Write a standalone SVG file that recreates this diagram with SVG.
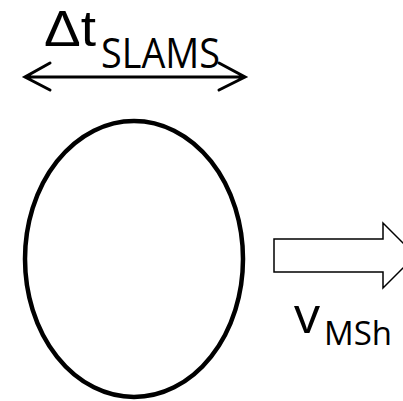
<svg xmlns="http://www.w3.org/2000/svg" width="403" height="401" viewBox="0 0 403 401">
  <style>
    .lbl { font-family: "Open Sans", "Liberation Sans", sans-serif; fill: #000; }
    .big { font-family: "Liberation Sans", "Open Sans", sans-serif; fill: #000; }
    .line { fill: none; stroke: #000; stroke-linecap: round; stroke-linejoin: miter; }
  </style>
  <rect width="403" height="401" fill="#fff"/>

  <!-- duration label and span arrow -->
  <g id="duration">
    <text class="big" x="44" y="45.5" font-size="50" textLength="52" lengthAdjust="spacingAndGlyphs">Δt</text>
    <text class="lbl" x="101" y="68" font-size="42" textLength="119" lengthAdjust="spacingAndGlyphs">SLAMS</text>
  </g>
  <g id="connectors">
    <path class="line" stroke-width="3" d="M25,77 H245 M50,63 L25,77 L50,90 M219,63 L245,77 L219,90"/>
  </g>

  <!-- structure outline -->
  <g id="slams">
    <ellipse cx="134" cy="259" rx="109" ry="138" fill="#fff" stroke="#000" stroke-width="4.5"/>
  </g>

  <!-- magnetosheath flow -->
  <g id="flow">
    <polygon points="274,239 383,239 383,223 415.5,255.5 383,288 383,272 274,272" fill="#fff" stroke="#000" stroke-width="1.5"/>
    <text class="lbl" x="294" y="333" font-size="52">v</text>
    <text class="lbl" x="324" y="345" font-size="33">MSh</text>
  </g>
</svg>
